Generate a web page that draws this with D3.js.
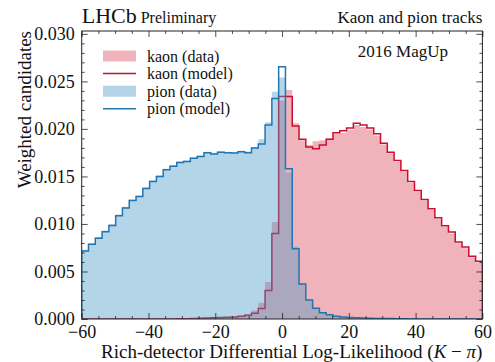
<!DOCTYPE html>
<html>
<head>
<meta charset="utf-8">
<script src="https://cdn.jsdelivr.net/npm/d3@7"></script>
<style>
  html, body { margin: 0; padding: 0; background: #fff; }
  svg { display: block; }
  text { font-family: "Liberation Serif", "DejaVu Serif", serif; fill: #111; }
</style>
</head>
<body>
<svg id="chart" width="495" height="362"></svg>
<script>
// Histogram binning: 59 equal bins spanning the DLL range
const xRange = [-60, 60];
const nBins = 59;

// Pion sample: weighted data and fitted model, per bin
const pionModel = [
  0.00716, 0.00786, 0.00849, 0.00919, 0.00985, 0.01087, 0.01167, 0.01247, 0.01289, 0.01373,
  0.01447, 0.01499, 0.01569, 0.01607, 0.01646, 0.01656, 0.01691, 0.01709, 0.01750, 0.01737,
  0.01754, 0.01750, 0.01747, 0.01760, 0.01750, 0.01800, 0.01840, 0.02040, 0.02320, 0.02655,
  0.01580, 0.00740, 0.00367, 0.00200, 0.00112, 0.00066, 0.00045, 0.00030, 0.00022, 0.00016,
  0.00012, 0.00010, 0.00008, 0.00006, 0.00005, 0.00004, 0.00003, 0.00002, 0, 0,
  0, 0, 0, 0, 0, 0, 0, 0, 0
];
const pionData = [
  0.00728, 0.00798, 0.00862, 0.00932, 0.00998, 0.01100, 0.01180, 0.01258, 0.01300, 0.01385,
  0.01458, 0.01510, 0.01580, 0.01618, 0.01656, 0.01668, 0.01700, 0.01720, 0.01760, 0.01748,
  0.01764, 0.01760, 0.01757, 0.01770, 0.01762, 0.01810, 0.01890, 0.02070, 0.02390, 0.02540,
  0.01540, 0.00760, 0.00375, 0.00205, 0.00118, 0.00070, 0.00048, 0.00032, 0.00023, 0.00017,
  0.00013, 0.00010, 0.00008, 0.00006, 0.00005, 0.00004, 0.00003, 0.00002, 0, 0,
  0, 0, 0, 0, 0, 0, 0, 0, 0
];

// Kaon sample: weighted data and fitted model, per bin
const kaonModel = [
  0, 0, 0, 0, 0, 0, 0, 0, 0, 0,
  0, 0, 0, 0, 0.00002, 0.00003, 0.00005, 0.00007, 0.00010, 0.00012,
  0.00015, 0.00018, 0.00022, 0.00028, 0.00040, 0.00060, 0.00110, 0.00300, 0.00900, 0.02340,
  0.02340, 0.02030, 0.01890, 0.01810, 0.01790, 0.01830, 0.01890, 0.01960, 0.01980, 0.02010,
  0.02060, 0.02040, 0.02010, 0.01950, 0.01850, 0.01755, 0.01667, 0.01562, 0.01447, 0.01352,
  0.01258, 0.01160, 0.01066, 0.00982, 0.00915, 0.00810, 0.00758, 0.00660, 0.00608
];
const kaonData = [
  0, 0, 0, 0, 0, 0, 0, 0, 0, 0,
  0, 0, 0, 0, 0.00002, 0.00003, 0.00005, 0.00008, 0.00011, 0.00014,
  0.00017, 0.00021, 0.00026, 0.00034, 0.00050, 0.00090, 0.00170, 0.00390, 0.01020, 0.02300,
  0.02410, 0.02060, 0.01880, 0.01830, 0.01870, 0.01880, 0.01900, 0.01950, 0.01960, 0.01990,
  0.02040, 0.02020, 0.01990, 0.01930, 0.01835, 0.01740, 0.01652, 0.01548, 0.01432, 0.01338,
  0.01244, 0.01146, 0.01052, 0.00968, 0.00900, 0.00796, 0.00744, 0.00646, 0.00594
];

// Axis ticks
const xMajorTicks = [-60, -40, -20, 0, 20, 40, 60];
const yMajorTicks = [0.000, 0.005, 0.010, 0.015, 0.020, 0.025, 0.030];

// Legend entries
const legendLabels = ["kaon (data)", "kaon (model)", "pion (data)", "pion (model)"];

// ---- drawing ----
const svg = d3.select("#chart");
const plot = { left: 81.7, right: 482.4, top: 31, bottom: 319 };

const x = d3.scaleLinear().domain(xRange).range([plot.left, plot.right]);
const y = d3.scaleLinear().domain([0, 0.0303]).range([plot.bottom, plot.top]);

const edges = d3.range(nBins + 1).map(i => xRange[0] + i * (xRange[1] - xRange[0]) / nBins);

// Turn per-bin values into the corner points of a step outline
function stepPoints(vals) {
  const pts = [[edges[0], 0]];
  vals.forEach((v, i) => { pts.push([edges[i], v]); pts.push([edges[i + 1], v]); });
  pts.push([edges[nBins], 0]);
  return pts;
}

const area = d3.area().x(d => x(d[0])).y0(y(0)).y1(d => y(d[1]));
const line = d3.line().x(d => x(d[0])).y(d => y(d[1]));

const kaonFill = "rgb(212,35,61)", kaonFillOpacity = 0.35, kaonLine = "#c8102e";
const pionFill = "rgb(67,150,197)", pionFillOpacity = 0.4, pionLine = "#2176b2";

const g = svg.append("g");
svg.append("defs").append("clipPath").attr("id", "clip")
  .append("rect").attr("x", plot.left).attr("y", plot.top)
  .attr("width", plot.right - plot.left).attr("height", plot.bottom - plot.top);
const layer = g.append("g").attr("clip-path", "url(#clip)");

layer.append("path").attr("d", area(stepPoints(kaonData)))
  .attr("fill", kaonFill).attr("fill-opacity", kaonFillOpacity);
layer.append("path").attr("d", line(stepPoints(kaonModel)))
  .attr("fill", "none").attr("stroke", kaonLine).attr("stroke-width", 1.5);
layer.append("path").attr("d", area(stepPoints(pionData)))
  .attr("fill", pionFill).attr("fill-opacity", pionFillOpacity);
layer.append("path").attr("d", line(stepPoints(pionModel)))
  .attr("fill", "none").attr("stroke", pionLine).attr("stroke-width", 1.5);

// Axes with inward ticks on all four sides
const xMinor = d3.range(-60, 61, 5).filter(v => !xMajorTicks.includes(v));
const yMinor = d3.range(0, 31).map(i => i / 1000).filter(v => Math.round(v * 1000) % 5 !== 0);
const fontTick = "18px";

function styleAxis(sel) {
  sel.select(".domain").remove();
  sel.selectAll(".tick line").attr("stroke", "#222").attr("stroke-width", 0.8);
}

g.append("g").attr("transform", `translate(0,${plot.bottom})`)
  .call(d3.axisBottom(x).tickValues(xMajorTicks).tickSize(-6).tickPadding(6).tickFormat(d3.format("d")))
  .call(styleAxis)
  .call(s => s.selectAll("text").attr("font-size", fontTick).attr("fill", "#111"));
g.append("g").attr("transform", `translate(0,${plot.bottom})`)
  .call(d3.axisBottom(x).tickValues(xMinor).tickSize(-3).tickFormat(""))
  .call(styleAxis);
g.append("g").attr("transform", `translate(0,${plot.top})`)
  .call(d3.axisTop(x).tickValues(xMajorTicks).tickSize(-6).tickFormat(""))
  .call(styleAxis);
g.append("g").attr("transform", `translate(0,${plot.top})`)
  .call(d3.axisTop(x).tickValues(xMinor).tickSize(-3).tickFormat(""))
  .call(styleAxis);

g.append("g").attr("transform", `translate(${plot.left},0)`)
  .call(d3.axisLeft(y).tickValues(yMajorTicks).tickSize(-6).tickPadding(7).tickFormat(d3.format(".3f")))
  .call(styleAxis)
  .call(s => s.selectAll("text").attr("font-size", fontTick).attr("fill", "#111"));
g.append("g").attr("transform", `translate(${plot.left},0)`)
  .call(d3.axisLeft(y).tickValues(yMinor).tickSize(-3).tickFormat(""))
  .call(styleAxis);
g.append("g").attr("transform", `translate(${plot.right},0)`)
  .call(d3.axisRight(y).tickValues(yMajorTicks).tickSize(-6).tickFormat(""))
  .call(styleAxis);
g.append("g").attr("transform", `translate(${plot.right},0)`)
  .call(d3.axisRight(y).tickValues(yMinor).tickSize(-3).tickFormat(""))
  .call(styleAxis);

// Frame
g.append("rect").attr("x", plot.left).attr("y", plot.top)
  .attr("width", plot.right - plot.left).attr("height", plot.bottom - plot.top)
  .attr("fill", "none").attr("stroke", "#222").attr("stroke-width", 1);

// Axis titles
svg.append("text")
  .attr("x", plot.right).attr("y", 358)
  .attr("text-anchor", "end").attr("font-size", "19px")
  .call(t => {
    t.append("tspan").text("Rich-detector Differential Log-Likelihood (");
    t.append("tspan").attr("font-style", "italic").text("K");
    t.append("tspan").text(" − ");
    t.append("tspan").attr("font-style", "italic").text("π");
    t.append("tspan").text(")");
  });
svg.append("text")
  .attr("transform", `translate(31,${plot.top}) rotate(-90)`)
  .attr("text-anchor", "end").attr("font-size", "19px")
  .text("Weighted candidates");

// Header texts
svg.append("text").attr("x", plot.left).attr("y", 23).attr("font-size", "22px")
  .call(t => {
    t.append("tspan").text("LHCb");
    t.append("tspan").attr("font-size", "16px").attr("dx", 4).text("Preliminary");
  });
svg.append("text").attr("x", plot.right).attr("y", 23).attr("text-anchor", "end")
  .attr("font-size", "17px").text("Kaon and pion tracks");
svg.append("text").attr("x", 448).attr("y", 57).attr("text-anchor", "end")
  .attr("font-size", "17px").text("2016 MagUp");

// Legend
const legend = svg.append("g").attr("transform", "translate(103,56)");
legendLabels.forEach((label, i) => {
  const row = legend.append("g").attr("transform", `translate(0,${i * 17.6})`);
  if (i === 0 || i === 2) {
    row.append("rect").attr("x", 0).attr("y", -5.5).attr("width", 33).attr("height", 11)
      .attr("fill", i === 0 ? kaonFill : pionFill)
      .attr("fill-opacity", i === 0 ? kaonFillOpacity : pionFillOpacity);
  } else {
    row.append("line").attr("x1", 0).attr("x2", 33).attr("y1", 0).attr("y2", 0)
      .attr("stroke", i === 1 ? kaonLine : pionLine).attr("stroke-width", 1.5);
  }
  row.append("text").attr("x", 44).attr("y", 0).attr("dy", "0.35em")
    .attr("font-size", "16px").text(label);
});
</script>
</body>
</html>
